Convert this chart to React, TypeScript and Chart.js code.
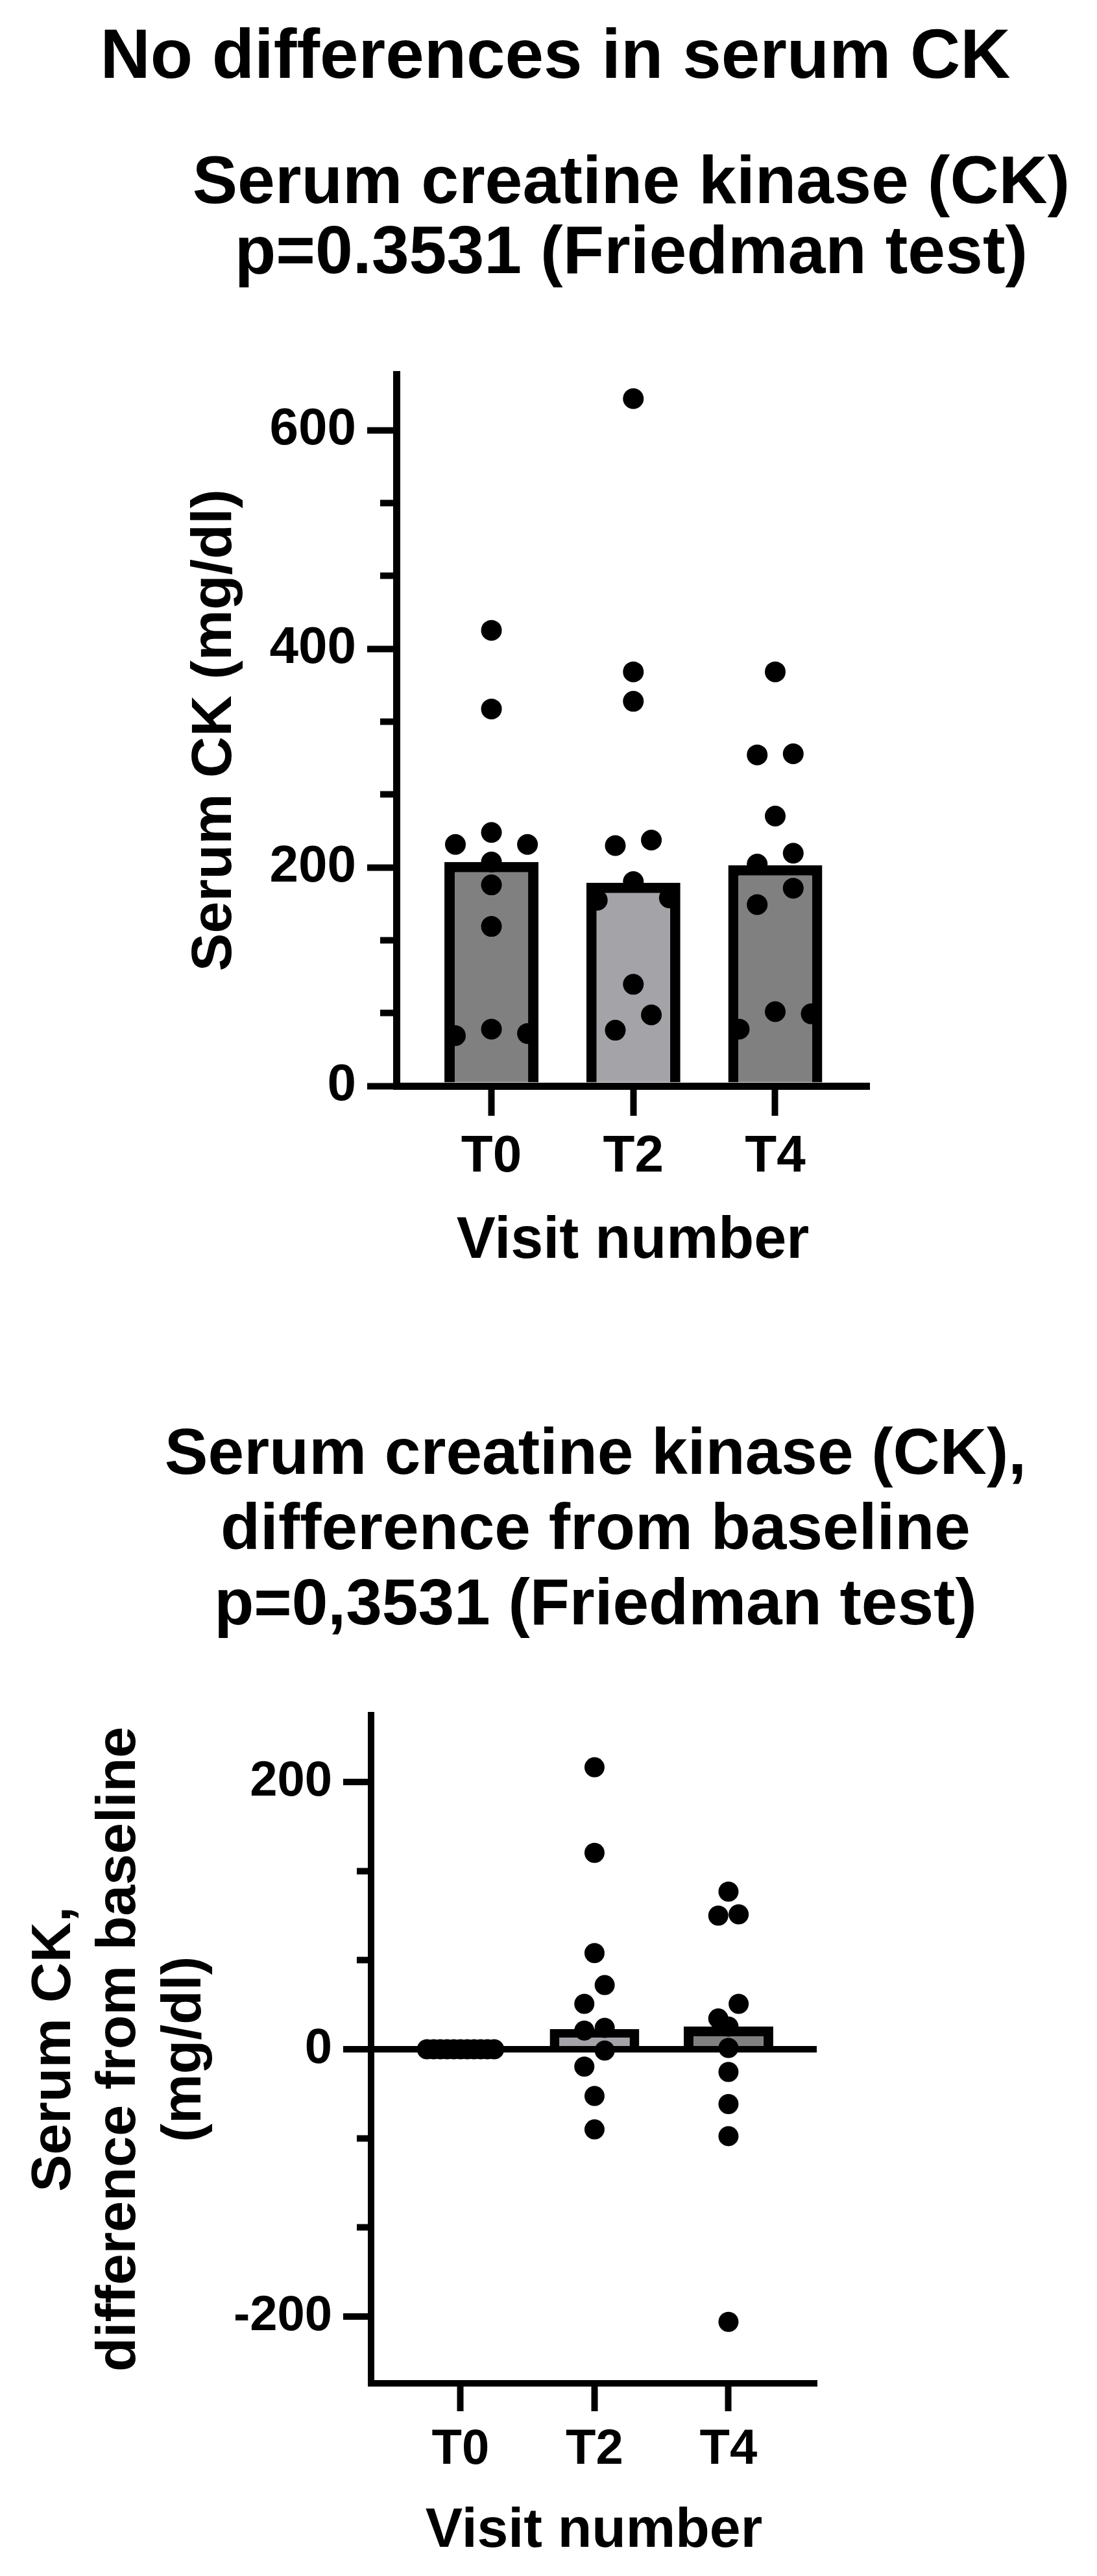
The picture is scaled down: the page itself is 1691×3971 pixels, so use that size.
import React, { useEffect, useRef } from 'react';
import { Chart, registerables } from 'chart.js';

Chart.register(...registerables);

// ---------- data ----------
const visits = ['T0', 'T2', 'T4'];
const visitTicks = [0, 1, 2];

const ckT0 = [417, 345, 232, 221, 221, 205, 184, 146, 52, 48, 46];
const ckT2 = [629, 379, 352, 225, 220, 187, 172, 170, 93, 65, 51];
const ckT4 = [379, 304, 303, 247, 213, 203, 181, 166, 68, 66, 52];
const ckMedian = [205, 186, 202];
const ckMajorTicks = [0, 200, 400, 600];
const ckMinorTicks = [66.67, 133.33, 266.67, 333.33, 466.67, 533.33];

const diffT0 = [0, 0, 0, 0, 0, 0, 0, 0, 0, 0, 0];
const diffT2 = [211, 147, 72, 48, 34, 16, 14, -1, -13, -35, -60];
const diffT4 = [118, 101, 100, 34, 23, 17, 1, -17, -41, -65, -204];
const diffMedian = [0, 15, 17];
const diffMajorTicks = [-200, 0, 200];
const diffMinorTicks = [-133.33, -66.67, 66.67, 133.33];

// ---------- styles ----------
const FONT = "'Liberation Sans', Arial, Helvetica, sans-serif";
const BAR_FILLS = ['#808080', '#a4a3a8', '#808080'];
const BLACK = '#000000';

// GraphPad-like column scatter: group close values into rows, spread each row.
function swarm(values: number[], center: number, slot: number, thr: number, maxHalf: number) {
  const sorted = [...values].sort((a, b) => b - a);
  const rows: number[][] = [];
  for (const v of sorted) {
    const last = rows[rows.length - 1];
    if (last && last[0] - v < thr) last.push(v);
    else rows.push([v]);
  }
  const pts: { x: number; y: number }[] = [];
  for (const row of rows) {
    const n = row.length;
    const step = n > 1 ? Math.min(slot, (2 * maxHalf) / (n - 1)) : 0;
    const asc = [...row].sort((a, b) => a - b);
    let arranged: number[] = asc;
    if (n % 2 === 1 && n > 1) {
      const top = asc.pop() as number;
      const mid = (n - 1) / 2;
      arranged = [...asc.slice(0, mid), top, ...asc.slice(mid)];
    }
    arranged.forEach((v, i) => pts.push({ x: center + (i - (n - 1) / 2) * step, y: v }));
  }
  return pts;
}

type Geo = {
  padTop: number; padRight: number; yWidth: number; xHeight: number;
  yMin: number; yMax: number; xMin: number; xMax: number;
  majorTicks: number[]; minorTicks: number[];
  majorLen: number; minorLen: number; axisWidth: number; tickWidth: number;
  tickFont: number; yTickPad: number; xTickLen: number; xTickPad: number;
  xTitleFont: number; xTitlePad: number;
  yTitle: string | string[]; yTitleFont: number; yTitleLH: number; yTitlePad: number;
  barBorder: number; barPct: number; radius: number;
  slot: number; thr: number; maxHalf: number;
  series: number[][]; medians: number[]; zeroLine: boolean;
};

function makeConfig(g: Geo): any {
  const pointSets = g.series.map((vals, i) => ({
    type: 'scatter',
    label: visits[i],
    data: swarm(vals, visitTicks[i], g.slot, g.thr, g.maxHalf),
    pointRadius: g.radius,
    pointHoverRadius: g.radius,
    pointBackgroundColor: BLACK,
    pointBorderWidth: 0,
    showLine: false,
    clip: false,
    order: 1,
    xAxisID: 'x',
    yAxisID: 'y',
  }));
  const bars = {
    type: 'bar',
    label: 'median',
    data: g.medians.map((m, i) => ({ x: visitTicks[i], y: m })),
    backgroundColor: BAR_FILLS,
    borderColor: BLACK,
    borderWidth: g.barBorder,
    borderSkipped: 'start',
    categoryPercentage: 1,
    barPercentage: g.barPct,
    order: 2,
    xAxisID: 'x',
    yAxisID: 'y',
  };
  const yLayer = g.zeroLine ? 1 : 0;
  return {
    type: 'scatter',
    data: { datasets: [...pointSets, bars] },
    options: {
      animation: false,
      responsive: false,
      events: [],
      layout: { padding: { top: g.padTop, right: g.padRight, bottom: 0, left: 0 } },
      plugins: { legend: { display: false }, title: { display: false }, tooltip: { enabled: false } },
      scales: {
        x: {
          type: 'linear',
          position: 'bottom',
          min: g.xMin,
          max: g.xMax,
          bounds: 'data',
          offset: false,
          afterBuildTicks: (s: any) => { s.ticks = visitTicks.map((v) => ({ value: v })); },
          afterFit: (s: any) => { s.height = g.xHeight; },
          ticks: {
            callback: (v: any) => visits[v] ?? '',
            font: { family: FONT, size: g.tickFont, weight: 'bold', lineHeight: 1 },
            color: BLACK,
            padding: g.xTickPad,
            maxRotation: 0,
            minRotation: 0,
            autoSkip: false,
          },
          grid: {
            offset: false,
            drawOnChartArea: false,
            drawTicks: true,
            tickLength: g.xTickLen,
            tickWidth: g.tickWidth,
            tickColor: BLACK,
            z: 1,
          },
          border: { display: true, color: BLACK, width: g.axisWidth, z: 1 },
          title: {
            display: true,
            text: 'Visit number',
            color: BLACK,
            font: { family: FONT, size: g.xTitleFont, weight: 'bold', lineHeight: 1 },
            padding: { top: 0, bottom: g.xTitlePad },
          },
        },
        y: {
          type: 'linear',
          position: 'left',
          weight: 1,
          min: g.yMin,
          max: g.yMax,
          bounds: 'data',
          afterBuildTicks: (s: any) => { s.ticks = g.majorTicks.map((v) => ({ value: v })); },
          afterFit: (s: any) => { s.width = g.yWidth; },
          ticks: {
            callback: (v: any) => String(v),
            font: { family: FONT, size: g.tickFont, weight: 'bold', lineHeight: 1 },
            color: BLACK,
            padding: g.yTickPad,
            autoSkip: false,
          },
          grid: {
            drawOnChartArea: g.zeroLine,
            color: (ctx: any) => (g.zeroLine && ctx.tick && ctx.tick.value === 0 ? BLACK : 'rgba(0,0,0,0)'),
            lineWidth: g.axisWidth,
            drawTicks: true,
            tickLength: g.majorLen,
            tickWidth: g.tickWidth,
            tickColor: BLACK,
            z: yLayer,
          },
          border: { display: true, color: BLACK, width: g.axisWidth, z: yLayer },
          title: {
            display: true,
            text: g.yTitle,
            color: BLACK,
            font: { family: FONT, size: g.yTitleFont, weight: 'bold', lineHeight: g.yTitleLH },
            padding: { top: g.yTitlePad, bottom: 0 },
          },
        },
        yMinor: {
          type: 'linear',
          position: 'left',
          weight: 0,
          min: g.yMin,
          max: g.yMax,
          bounds: 'data',
          afterBuildTicks: (s: any) => { s.ticks = g.minorTicks.map((v) => ({ value: v })); },
          afterFit: (s: any) => { s.width = 0; },
          ticks: { display: false },
          grid: {
            drawOnChartArea: false,
            drawTicks: true,
            tickLength: g.minorLen,
            tickWidth: g.tickWidth,
            tickColor: BLACK,
          },
          border: { display: false },
        },
      },
    },
  };
}

const chart1Geo: Geo = {
  padTop: 77.5, padRight: 351, yWidth: 611, xHeight: 326,
  yMin: 0, yMax: 651, xMin: -0.67, xMax: 2.663,
  majorTicks: ckMajorTicks, minorTicks: ckMinorTicks,
  majorLen: 45, minorLen: 25, axisWidth: 11, tickWidth: 10,
  tickFont: 80, yTickPad: 17, xTickLen: 46, xTickPad: 24,
  xTitleFont: 90, xTitlePad: 41,
  yTitle: 'Serum CK (mg/dl)', yTitleFont: 88, yTitleLH: 1, yTitlePad: 288,
  barBorder: 16, barPct: 0.663, radius: 16,
  slot: 0.254, thr: 19, maxHalf: 1,
  series: [ckT0, ckT2, ckT4], medians: ckMedian, zeroLine: false,
};

const chart2Geo: Geo = {
  padTop: 94, padRight: 432, yWidth: 572, xHeight: 297,
  yMin: -250, yMax: 250, xMin: -0.668, xMax: 2.659,
  majorTicks: diffMajorTicks, minorTicks: diffMinorTicks,
  majorLen: 43, minorLen: 22, axisWidth: 10, tickWidth: 10,
  tickFont: 76, yTickPad: 17, xTickLen: 43, xTickPad: 22,
  xTitleFont: 86, xTitlePad: 26,
  yTitle: ['Serum CK,', 'difference from baseline', '(mg/dl)'], yTitleFont: 86, yTitleLH: 1.1686, yTitlePad: 33.75,
  barBorder: 15, barPct: 0.668, radius: 15.5,
  slot: 0.152, thr: 15, maxHalf: 0.251,
  series: [diffT0, diffT2, diffT4], medians: diffMedian, zeroLine: true,
};

function ChartCanvas({ geo, top, height }: { geo: Geo; top: number; height: number }) {
  const ref = useRef<HTMLCanvasElement | null>(null);
  useEffect(() => {
    if (!ref.current) return;
    const chart = new Chart(ref.current, makeConfig(geo));
    return () => chart.destroy();
  }, [geo]);
  return (
    <canvas
      ref={ref}
      width={1691}
      height={height}
      style={{ position: 'absolute', left: 0, top, width: 1691, height }}
    />
  );
}

const textBase: React.CSSProperties = {
  position: 'absolute',
  textAlign: 'center',
  fontWeight: 'bold',
  whiteSpace: 'nowrap',
  color: '#000',
  fontFamily: FONT,
};

export default function App() {
  useEffect(() => {
    document.body.style.margin = '0';
    document.body.style.background = '#ffffff';
  }, []);
  return (
    <div
      style={{
        position: 'absolute',
        left: 0,
        top: 0,
        width: 1691,
        height: 3971,
        background: '#ffffff',
        overflow: 'hidden',
      }}
    >
      <div style={{ ...textBase, left: 56, top: 30, width: 1600, fontSize: 107, lineHeight: '107px' }}>
        No differences in serum CK
      </div>
      <div style={{ ...textBase, left: 273, top: 223, width: 1400, fontSize: 104, lineHeight: '108px' }}>
        <div>Serum creatine kinase (CK)</div>
        <div>p=0.3531 (Friedman test)</div>
      </div>
      <ChartCanvas geo={chart1Geo} top={500} height={1500} />
      <div style={{ ...textBase, left: 218, top: 2179, width: 1400, fontSize: 100, lineHeight: '116px' }}>
        <div>Serum creatine kinase (CK),</div>
        <div>difference from baseline</div>
        <div>p=0,3531 (Friedman test)</div>
      </div>
      <ChartCanvas geo={chart2Geo} top={2550} height={1421} />
    </div>
  );
}
